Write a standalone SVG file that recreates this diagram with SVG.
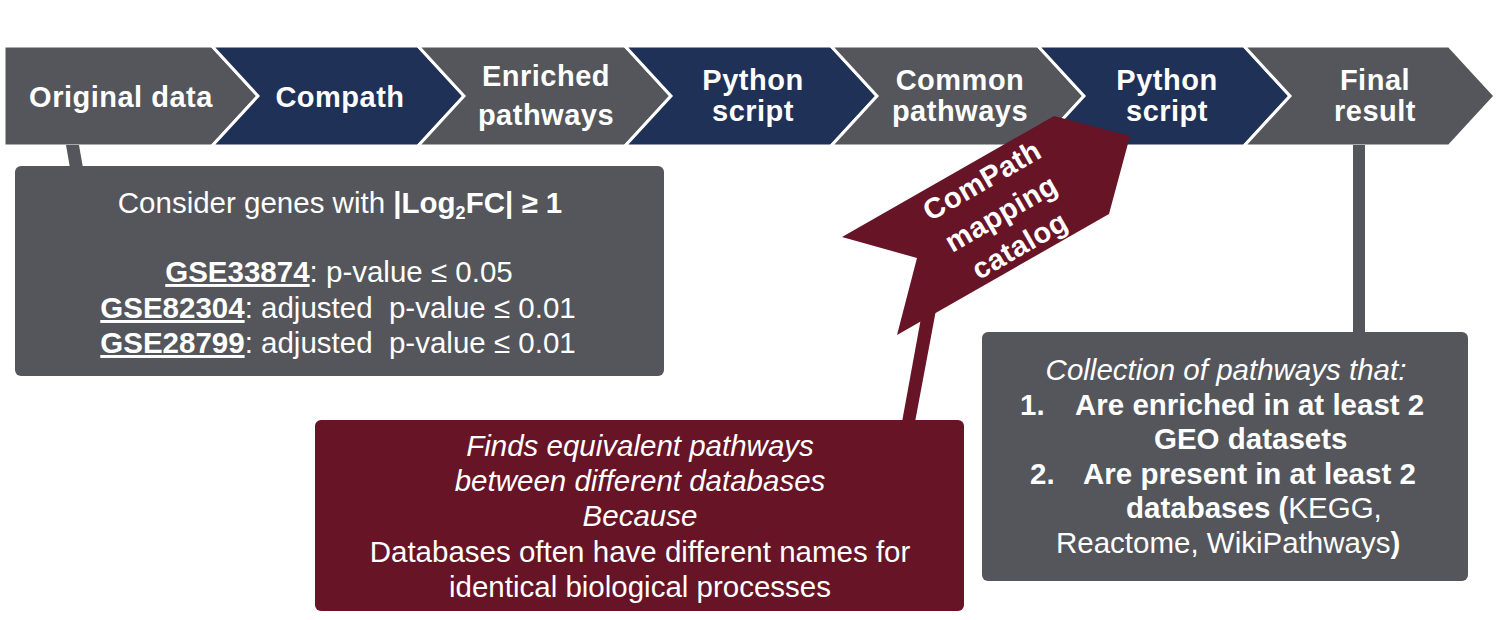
<svg xmlns="http://www.w3.org/2000/svg" width="1506" height="620" viewBox="0 0 1506 620">
<style>
.gray{fill:#54565b}
.navy{fill:#1f3157}
.maroon{fill:#671427}
.chev{stroke:#ffffff;stroke-width:3;stroke-linejoin:miter}
.lbl{font-family:"Liberation Sans",Arial,sans-serif;font-weight:bold;font-size:29px;letter-spacing:0.5px;fill:#ffffff;text-anchor:middle}
.txt{font-family:"Liberation Sans",Arial,sans-serif;font-size:29.5px;fill:#ffffff}
.mid{text-anchor:middle}
.b{font-weight:bold}
.i{font-style:italic}
.u{text-decoration:underline}
</style>
<rect width="1506" height="620" fill="#ffffff"/>

<g id="step-original-data">
<polygon class="gray chev" points="4,46 212,46 258,96 212,146 4,146"/>
<text class="lbl" x="121" y="107">Original data</text>
</g>
<g id="step-compath">
<polygon class="navy chev" points="212,46 418,46 464,96 418,146 212,146 258,96"/>
<text class="lbl" x="340" y="107">Compath</text>
</g>
<g id="step-enriched-pathways">
<polygon class="gray chev" points="418,46 625,46 671,96 625,146 418,146 464,96"/>
<text class="lbl" x="546" y="86">Enriched</text>
<text class="lbl" x="546" y="125">pathways</text>
</g>
<g id="step-python-script-1">
<polygon class="navy chev" points="625,46 831,46 877,96 831,146 625,146 671,96"/>
<text class="lbl" x="753" y="90">Python</text>
<text class="lbl" x="753" y="121">script</text>
</g>
<g id="step-common-pathways">
<polygon class="gray chev" points="831,46 1038,46 1084,96 1038,146 831,146 877,96"/>
<text class="lbl" x="960" y="90">Common</text>
<text class="lbl" x="960" y="121">pathways</text>
</g>
<g id="step-python-script-2">
<polygon class="navy chev" points="1038,46 1244,46 1290,96 1244,146 1038,146 1084,96"/>
<text class="lbl" x="1167" y="90">Python</text>
<text class="lbl" x="1167" y="121">script</text>
</g>
<g id="step-final-result">
<polygon class="gray chev" points="1244,46 1449,46 1495,96 1449,146 1244,146 1290,96"/>
<text class="lbl" x="1375" y="90">Final</text>
<text class="lbl" x="1375" y="121">result</text>
</g>

<g id="connectors">
<polygon class="gray" points="66,145 79,145 83,168 70,168"/>
<rect class="gray" x="1353" y="145" width="12" height="188"/>
<polygon class="maroon" points="921,318 936,310 915,422 902,422"/>
</g>

<g id="criteria-box">
<rect class="gray" x="15" y="166" width="649" height="210" rx="6"/>
<text class="txt mid" x="340" y="213">Consider genes with <tspan class="b">|Log<tspan font-size="18" dy="6">2</tspan><tspan dy="-6">FC| ≥ 1</tspan></tspan></text>
<text class="txt mid" x="339" y="282"><tspan class="b u">GSE33874</tspan>: p-value ≤ 0.05</text>
<text class="txt mid" x="338" y="318"><tspan class="b u">GSE82304</tspan>: adjusted&#160; p-value ≤ 0.01</text>
<text class="txt mid" x="338" y="353"><tspan class="b u">GSE28799</tspan>: adjusted&#160; p-value ≤ 0.01</text>
</g>

<g id="compath-catalog">
<polygon class="maroon" points="842,237 1054,116 1130,136 1109,214 897,335 917,258"/>
<g transform="translate(1002,215) rotate(-30)">
<text class="lbl" x="0" y="-30">ComPath</text>
<text class="lbl" x="0" y="8">mapping</text>
<text class="lbl" x="0" y="45">catalog</text>
</g>
</g>

<g id="catalog-description">
<rect class="maroon" x="315" y="420" width="649" height="191" rx="6"/>
<text class="txt mid i" x="640" y="456">Finds equivalent pathways</text>
<text class="txt mid i" x="640" y="491">between different databases</text>
<text class="txt mid i" x="640" y="526">Because</text>
<text class="txt mid" x="640" y="562">Databases often have different names for</text>
<text class="txt mid" x="640" y="597">identical biological processes</text>
</g>

<g id="final-result-box">
<rect class="gray" x="982" y="332" width="486" height="249" rx="6"/>
<text class="txt mid i" x="1226" y="380">Collection of pathways that:</text>
<text class="txt b" x="1020" y="415">1.</text>
<text class="txt b" x="1075" y="415">Are enriched in at least 2</text>
<text class="txt b" x="1154" y="449">GEO datasets</text>
<text class="txt b" x="1030" y="484">2.</text>
<text class="txt b" x="1083" y="484">Are present in at least 2</text>
<text class="txt" x="1126" y="518"><tspan class="b">databases (</tspan>KEGG,</text>
<text class="txt" x="1056" y="553">Reactome, WikiPathways<tspan class="b">)</tspan></text>
</g>
</svg>
